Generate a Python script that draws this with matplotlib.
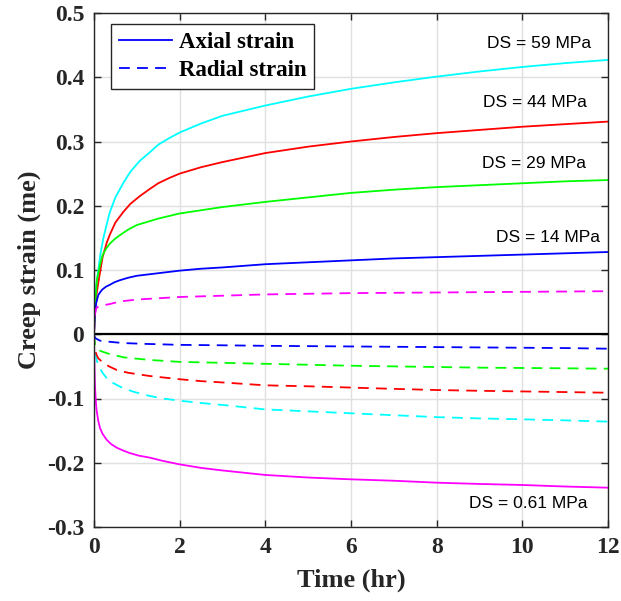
import matplotlib
matplotlib.use("Agg")
import matplotlib.pyplot as plt

# Axial creep strain (solid) per deviatoric stress level
t_ax59 = [0, 0.01, 0.02, 0.05, 0.1, 0.15, 0.22, 0.3, 0.37, 0.5, 0.68, 0.85, 1.07, 1.3, 1.5, 1.75, 2, 2.5, 3, 4, 5, 6, 7, 8, 9, 10, 11, 12]
ax59 = [0, 0.02, 0.04, 0.075, 0.10, 0.125, 0.15, 0.172, 0.19, 0.213, 0.235, 0.253, 0.27, 0.283, 0.295, 0.305, 0.314, 0.328, 0.34, 0.356, 0.37, 0.382, 0.392, 0.401, 0.409, 0.416, 0.422, 0.427]

t_ax44 = [0, 0.01, 0.02, 0.05, 0.1, 0.2, 0.3, 0.37, 0.5, 0.68, 0.85, 1.07, 1.3, 1.5, 1.75, 2, 2.5, 3, 4, 5, 6, 7, 8, 9, 10, 11, 12]
ax44 = [0, 0.015, 0.03, 0.058, 0.08, 0.12, 0.143, 0.155, 0.174, 0.19, 0.203, 0.215, 0.226, 0.235, 0.243, 0.25, 0.26, 0.268, 0.282, 0.292, 0.30, 0.307, 0.313, 0.318, 0.323, 0.327, 0.331]

t_ax29 = [0, 0.01, 0.03, 0.07, 0.14, 0.2, 0.28, 0.37, 0.48, 0.6, 0.8, 1, 1.25, 1.5, 2, 2.5, 3, 4, 5, 6, 7, 8, 9, 10, 11, 12]
ax29 = [0, 0.025, 0.05, 0.085, 0.108, 0.123, 0.133, 0.141, 0.148, 0.154, 0.163, 0.17, 0.175, 0.18, 0.188, 0.193, 0.198, 0.206, 0.213, 0.220, 0.225, 0.229, 0.232, 0.235, 0.238, 0.240]

t_ax14 = [0, 0.01, 0.02, 0.05, 0.1, 0.15, 0.2, 0.28, 0.37, 0.48, 0.6, 0.8, 1, 1.5, 2, 2.5, 3, 4, 5, 6, 7, 8, 9, 10, 11, 12]
ax14 = [0, 0.018, 0.03, 0.048, 0.061, 0.066, 0.07, 0.074, 0.077, 0.081, 0.084, 0.088, 0.091, 0.095, 0.099, 0.102, 0.104, 0.109, 0.112, 0.115, 0.118, 0.120, 0.122, 0.124, 0.126, 0.128]

t_ax061 = [0, 0.005, 0.01, 0.02, 0.03, 0.045, 0.06, 0.1, 0.14, 0.2, 0.3, 0.4, 0.53, 0.68, 0.84, 1.05, 1.3, 1.6, 2, 2.5, 3, 4, 5, 6, 7, 8, 9, 10, 11, 12]
ax061 = [0, -0.03, -0.05, -0.075, -0.09, -0.106, -0.118, -0.135, -0.146, -0.155, -0.1646, -0.171, -0.1765, -0.181, -0.185, -0.189, -0.192, -0.197, -0.2025, -0.208, -0.212, -0.219, -0.223, -0.2258, -0.228, -0.231, -0.233, -0.2346, -0.237, -0.2388]

# Radial creep strain (dashed)
t_rd59 = [0, 0.01, 0.03, 0.07, 0.14, 0.2, 0.3, 0.45, 0.68, 0.95, 1.3, 1.6, 2, 2.5, 3, 4, 5, 6, 7, 8, 9, 10, 11, 12]
rd59 = [0, -0.015, -0.03, -0.042, -0.053, -0.06, -0.0686, -0.076, -0.084, -0.090, -0.096, -0.100, -0.1034, -0.107, -0.110, -0.117, -0.120, -0.123, -0.126, -0.129, -0.131, -0.1324, -0.134, -0.136]

t_rd44 = [0, 0.01, 0.03, 0.06, 0.1, 0.21, 0.35, 0.53, 0.8, 1.3, 2, 2.5, 3, 4, 5, 6, 7, 8, 9, 10, 11, 12]
rd44 = [0, -0.012, -0.025, -0.032, -0.0375, -0.044, -0.050, -0.0556, -0.060, -0.065, -0.070, -0.073, -0.075, -0.0795, -0.081, -0.083, -0.085, -0.0868, -0.088, -0.089, -0.090, -0.091]

t_rd29 = [0, 0.01, 0.02, 0.06, 0.15, 0.37, 0.7, 1.3, 2, 3, 4, 5, 6, 7, 8, 9, 10, 11, 12]
rd29 = [0, -0.008, -0.015, -0.022, -0.026, -0.031, -0.036, -0.040, -0.043, -0.0445, -0.046, -0.0475, -0.049, -0.050, -0.051, -0.052, -0.0525, -0.053, -0.0536]

t_rd14 = [0, 0.01, 0.03, 0.14, 0.4, 0.68, 1.2, 2, 3, 4, 5, 6, 7, 8, 9, 10, 11, 12]
rd14 = [0, -0.003, -0.006, -0.010, -0.012, -0.0137, -0.015, -0.0165, -0.0172, -0.018, -0.0185, -0.019, -0.0195, -0.020, -0.0205, -0.021, -0.0215, -0.0225]

t_rd061 = [0, 0.01, 0.02, 0.05, 0.1, 0.2, 0.37, 0.6, 1, 1.5, 2, 3, 4, 5, 6, 7, 8, 9, 10, 11, 12]
rd061 = [0, 0.018, 0.03, 0.04, 0.043, 0.045, 0.047, 0.051, 0.054, 0.056, 0.058, 0.060, 0.062, 0.063, 0.064, 0.0645, 0.065, 0.0655, 0.066, 0.0665, 0.067]

stress_labels = ["DS = 59 MPa", "DS = 44 MPa", "DS = 29 MPa", "DS = 14 MPa", "DS = 0.61 MPa"]
label_x = [11.6, 11.51, 11.49, 11.81, 11.51]
label_y = [0.453, 0.361, 0.266, 0.151, -0.263]

x_ticks = [0, 2, 4, 6, 8, 10, 12]
y_ticks = [-0.3, -0.2, -0.1, 0, 0.1, 0.2, 0.3, 0.4, 0.5]
y_tick_labels = ["-0.3", "-0.2", "-0.1", "0", "0.1", "0.2", "0.3", "0.4", "0.5"]

serif = ["Liberation Serif", "DejaVu Serif"]
dark = "#262626"

fig = plt.figure(figsize=(6.21, 6.01), dpi=100)
ax = fig.add_axes([94 / 621, 1 - 527 / 601, 514 / 621, 514 / 601])

lw = 1.3
dash = (0, (6, 4))
ax.plot(t_ax59, ax59, color="#00ffff", lw=lw)
ax.plot(t_ax44, ax44, color="#ff0000", lw=lw)
ax.plot(t_ax29, ax29, color="#00ff00", lw=lw)
ax.plot(t_ax14, ax14, color="#0000ff", lw=lw)
ax.plot(t_ax061, ax061, color="#ff00ff", lw=lw)

ax.plot(t_rd59, rd59, color="#00ffff", lw=lw, linestyle=dash)
ax.plot(t_rd44, rd44, color="#ff0000", lw=lw, linestyle=dash)
ax.plot(t_rd29, rd29, color="#00ff00", lw=lw, linestyle=dash)
ax.plot(t_rd14, rd14, color="#0000ff", lw=lw, linestyle=dash)
ax.plot(t_rd061, rd061, color="#ff00ff", lw=lw, linestyle=dash)

ax.axhline(0, color="black", lw=1.6, zorder=1.5)

for s, xx, yy in zip(stress_labels, label_x, label_y):
    ax.text(xx, yy, s, ha="right", va="center", fontsize=12.5,
            family=["Liberation Sans", "DejaVu Sans"], color="black")

ax.set_xlim(0, 12)
ax.set_ylim(-0.3, 0.5)
ax.set_xticks(x_ticks)
ax.set_yticks(y_ticks)
ax.set_yticklabels(y_tick_labels)
ax.grid(True, color="#e0e0e0", lw=1.0, zorder=0)
ax.set_axisbelow(True)
ax.tick_params(direction="in", length=5, width=1, top=True, right=True,
               colors=dark, labelsize=17, pad=7)
for lab in ax.get_xticklabels() + ax.get_yticklabels():
    lab.set_family(serif)
    lab.set_fontweight("bold")
for sp in ax.spines.values():
    sp.set_color(dark)
    sp.set_linewidth(1.0)

ax.set_xlabel("Time (hr)", fontsize=19, fontweight="bold", family=serif, color=dark, labelpad=8)
ax.set_ylabel("Creep strain (me)", fontsize=19, fontweight="bold", family=serif, color=dark, labelpad=4)

h1, = ax.plot([], [], color="#0000ff", lw=lw)
h2, = ax.plot([], [], color="#0000ff", lw=lw, linestyle=(0, (6, 4)))
leg = ax.legend([h1, h2], ["Axial strain", "Radial strain"], loc="upper left",
                bbox_to_anchor=(0.033, 0.9786), borderaxespad=0, fancybox=False, framealpha=1,
                edgecolor=dark, handlelength=2.3, handletextpad=0.3,
                borderpad=0.35, labelspacing=0.3,
                prop={"family": serif, "weight": "bold", "size": 16.5})
leg.get_frame().set_linewidth(1.0)

fig.savefig("out.png", dpi=100)
